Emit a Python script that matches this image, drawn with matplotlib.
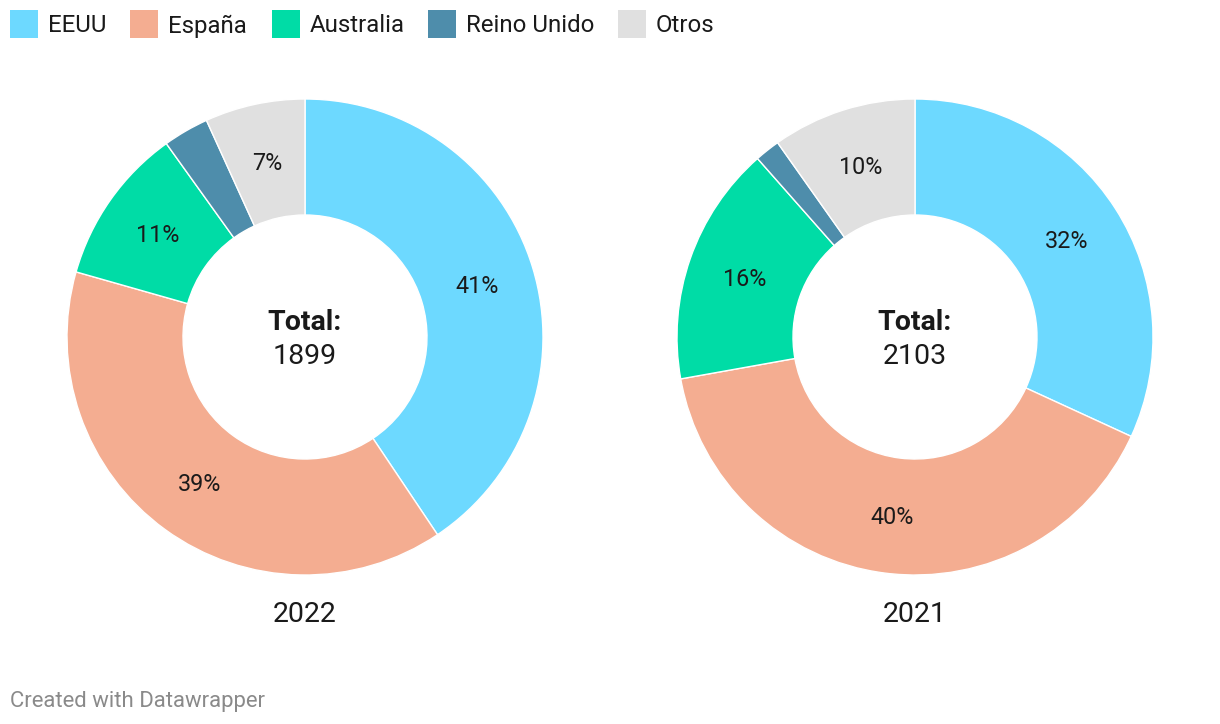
import matplotlib
matplotlib.use("Agg")
import matplotlib.pyplot as plt
from matplotlib.patches import Rectangle

plt.rcParams['font.family'] = ['Roboto', 'DejaVu Sans']

categories = ["EEUU", "España", "Australia", "Reino Unido", "Otros"]
colors = ["#6DD9FF", "#F4AD91", "#00DCA6", "#4E8DAB", "#E0E0E0"]
years = ["2022", "2021"]
values_2022 = [771, 737, 203, 59, 129]
values_2021 = [670, 848, 343, 36, 206]
totals = [1899, 2103]
series = [values_2022, values_2021]

W, H = 1220, 724
fig = plt.figure(figsize=(W / 100, H / 100), dpi=100)
ax = fig.add_axes([0, 0, 1, 1])
ax.set_xlim(0, W)
ax.set_ylim(0, H)
ax.set_aspect('equal')
ax.axis('off')

centers_x = [305, 915]
cy = H - 337
R = 238
ring = 116


def fmt(p):
    return f"{p:.0f}%" if p >= 5 else ""


for cx, vals, tot, yr in zip(centers_x, series, totals, years):
    wedges, texts, autotexts = ax.pie(
        vals, colors=colors, startangle=90, counterclock=False,
        center=(cx, cy), radius=R, autopct=fmt, pctdistance=180 / R,
        wedgeprops=dict(width=ring, edgecolor='white', linewidth=1),
        textprops=dict(fontsize=16.8, color='#1a1a1a'))
    for t in autotexts:
        x, y = t.get_position()
        t.set_position((x, y - 2))
    ax.text(cx, H - 322, "Total:", ha='center', va='center', fontsize=20.5,
            fontweight='bold', color='#1a1a1a')
    ax.text(cx, H - 357, f"{tot}", ha='center', va='center', fontsize=20.5,
            color='#1a1a1a')
    ax.text(cx, H - 614, yr, ha='center', va='center', fontsize=20.5,
            color='#1a1a1a')

ax.set_xlim(0, W)
ax.set_ylim(0, H)

# legend
legend_x = [10, 130, 272, 428, 618]
for lx, name, col in zip(legend_x, categories, colors):
    ax.add_patch(Rectangle((lx, H - 38), 28, 28, facecolor=col, edgecolor='none'))
    ax.text(lx + 38, H - 26, name, ha='left', va='center', fontsize=17.3,
            color='#1a1a1a')

ax.text(10, H - 702, "Created with Datawrapper", ha='left', va='center',
        fontsize=15.9, color='#8a8a8a')

fig.savefig("out.png", dpi=100)
